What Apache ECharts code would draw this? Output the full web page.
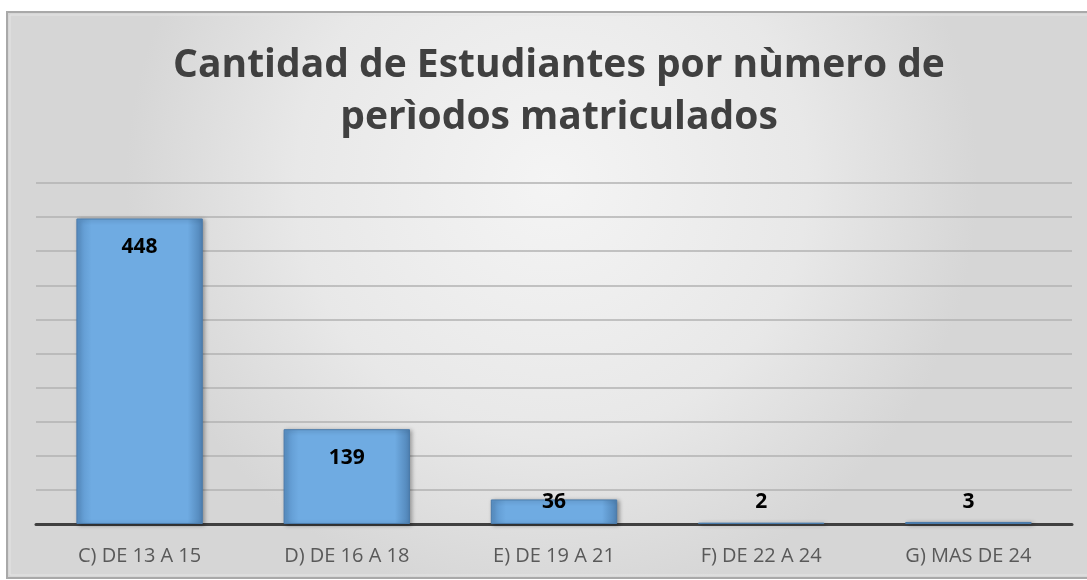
<!DOCTYPE html>
<html>
<head>
<meta charset="utf-8">
<script src="https://cdn.jsdelivr.net/npm/echarts@6/dist/echarts.min.js"></script>
<style>
  html, body { margin: 0; padding: 0; background: #fff; }
  #chart { width: 1087px; height: 580px; }
</style>
</head>
<body>
<div id="chart"></div>
<script>
  // datos
  let categorias = ['C) DE 13 A 15', 'D) DE 16 A 18', 'E) DE 19 A 21', 'F) DE 22 A 24', 'G) MAS DE 24']
  let estudiantes = [448, 139, 36, 2, 3]
  let ejeMin = 0
  let ejeMax = 500
  let ejeIntervalo = 50

  let fuente = '"Open Sans", "Noto Sans", sans-serif'

  // barras con relieve: degradado horizontal para simular el bisel
  let colorBarra = {
    type: 'linear', x: 0, y: 0, x2: 1, y2: 0,
    colorStops: [
      { offset: 0, color: '#5b93c9' },
      { offset: 0.12, color: '#6fabe2' },
      { offset: 0.88, color: '#6fabe2' },
      { offset: 1, color: '#4f82b4' }
    ]
  }

  let datos = estudiantes.map(function (v) {
    let item = { value: v }
    if (v < 50) {
      item.label = { position: 'insideBottom', distance: 11 }
    }
    return item
  })

  let myChart = echarts.init(document.getElementById('chart'))
  let option = {
    backgroundColor: '#ffffff',
    animation: false,
    title: {
      text: 'Cantidad de Estudiantes por nùmero de\nperìodos matriculados',
      left: 554,
      top: 35,
      textAlign: 'center',
      textStyle: {
        fontFamily: fuente,
        fontSize: 39,
        fontWeight: 'bold',
        color: '#404040',
        lineHeight: 52
      }
    },
    graphic: [{
      type: 'rect',
      z: -10,
      shape: { x: 7, y: 12, width: 1090, height: 566 },
      style: {
        fill: {
          type: 'radial', x: 0.5, y: 0.3, r: 0.75,
          colorStops: [
            { offset: 0, color: '#f4f4f4' },
            { offset: 0.6, color: '#e8e8e8' },
            { offset: 1, color: '#d6d6d6' }
          ]
        },
        stroke: '#a9a9a9',
        lineWidth: 2
      }
    }, {
      type: 'rect',
      z: -9,
      shape: { x: 10, y: 15, width: 1090, height: 560 },
      style: { fill: 'none', stroke: '#e4e4e4', lineWidth: 1 }
    }],
    grid: {
      left: 36,
      right: 15,
      top: 183,
      bottom: 56
    },
    xAxis: {
      type: 'category',
      data: categorias,
      axisLine: { show: true, lineStyle: { color: '#404040', width: 3 } },
      axisTick: { show: false },
      axisLabel: {
        margin: 22,
        fontFamily: fuente,
        fontSize: 20,
        color: '#595959'
      }
    },
    yAxis: {
      type: 'value',
      min: ejeMin,
      max: ejeMax,
      interval: ejeIntervalo,
      axisLine: { show: false },
      axisTick: { show: false },
      axisLabel: { show: false },
      splitLine: { show: true, lineStyle: { color: '#b2b2b2', width: 1.5 } }
    },
    series: [{
      name: 'Estudiantes',
      type: 'bar',
      barWidth: '61%',
      data: datos,
      itemStyle: {
        color: colorBarra,
        borderColor: '#4a7bab',
        borderWidth: 1,
        shadowColor: 'rgba(0,0,0,0.35)',
        shadowBlur: 4,
        shadowOffsetX: 2,
        shadowOffsetY: 1
      },
      label: {
        show: true,
        position: 'insideTop',
        distance: 18,
        fontFamily: fuente,
        fontSize: 21,
        fontWeight: 'bold',
        color: '#000000'
      }
    }]
  }
  myChart.setOption(option)
</script>
</body>
</html>
